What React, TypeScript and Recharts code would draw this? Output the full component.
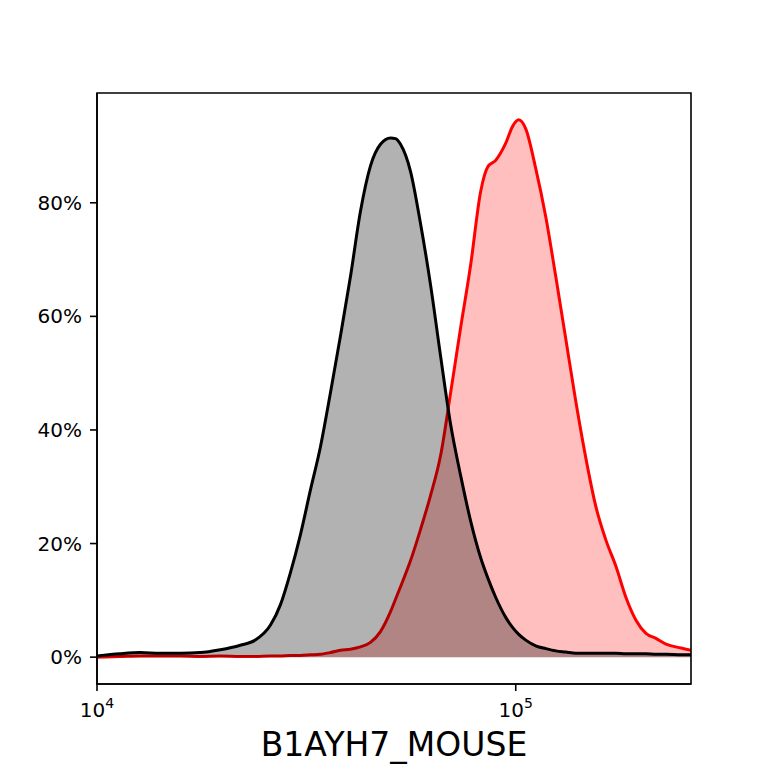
import { AreaChart, Area, XAxis, YAxis, ReferenceArea } from "recharts";

// fluorescence intensity (log axis)
const intensity = [
  10000, 11350, 12670, 14150, 15800, 17640, 19700, 21990, 23880, 25940,
  27410, 28950, 30590, 32330, 34160, 36090, 38130, 40300, 42580, 44990,
  47530, 50230, 51630, 53070, 56080, 59250, 62610, 66150, 69890, 73850,
  78020, 82460, 85700, 89600, 94650, 98360, 101670, 105660, 111640, 117970,
  124630, 131690, 139150, 147070, 155370, 164190, 173470, 183330, 193690,
  204640, 216200, 228480, 248140, 262144,
];

// black (control) histogram, % of max
const controlPct = [
  0.2, 0.6, 0.8, 0.7, 0.7, 0.8, 1.3, 2.1, 3.0, 5.6,
  9.2, 14.8, 21.5, 29.4, 37.0, 46.5, 56.5, 67.0, 78.5, 86.5,
  90.3, 91.4, 91.3, 90.3, 85.5, 76.3, 65.5, 53.0, 41.0, 32.0,
  24.0, 17.5, 14.0, 10.5, 7.0, 5.2, 4.0, 3.0, 2.0, 1.5,
  1.1, 0.9, 0.7, 0.7, 0.7, 0.7, 0.7, 0.6, 0.6, 0.6,
  0.5, 0.5, 0.4, 0.4,
];

// red (sample) histogram, % of max
const samplePct = [
  0.0, 0.1, 0.2, 0.2, 0.2, 0.1, 0.2, 0.1, 0.1, 0.2,
  0.2, 0.3, 0.3, 0.4, 0.5, 0.8, 1.2, 1.4, 1.8, 2.6,
  4.5, 8.0, 10.2, 12.4, 17.0, 22.5, 28.5, 35.5, 46.5, 58.0,
  69.0, 82.0, 86.3, 87.5, 90.5, 93.5, 94.6, 93.0, 86.0, 77.5,
  67.0, 56.0, 45.0, 35.0, 26.5, 20.6, 16.0, 10.5, 6.5, 4.2,
  3.3, 2.3, 1.6, 1.2,
];

const xTicks = [10000, 100000];
const yTicks = [0, 20, 40, 60, 80];
const xLabel = "B1AYH7_MOUSE";

const X_MIN = 10000;
const X_MAX = 262144;
const Y_MIN = -4.73;
const Y_MAX = 99.33;

const rows = intensity.map((x, i) => ({
  x,
  control: controlPct[i],
  sample: samplePct[i],
}));

const FONT = "DejaVu Sans";

function LogTick(props: any) {
  const { x, y, payload } = props;
  const exp = Math.round(Math.log10(payload.value));
  return (
    <text
      x={x}
      y={y + 26}
      textAnchor="middle"
      fontFamily={FONT}
      fontSize={20}
      fill="#000"
    >
      10
      <tspan dy={-9} fontSize={14}>
        {exp}
      </tspan>
    </text>
  );
}

export default function App() {
  return (
    <div style={{ position: "absolute", left: 0, top: 0, background: "#fff" }}>
      <AreaChart
        width={768}
        height={768}
        data={rows}
        margin={{ top: 93, right: 77, bottom: 0, left: 37 }}
      >
        <XAxis
          dataKey="x"
          type="number"
          scale="log"
          domain={[X_MIN, X_MAX]}
          allowDataOverflow
          ticks={xTicks}
          tick={<LogTick />}
          tickSize={7}
          tickMargin={0}
          height={84}
          axisLine={{ stroke: "#000", strokeWidth: 1.6 }}
          tickLine={{ stroke: "#000", strokeWidth: 1.6 }}
          label={{
            value: xLabel,
            position: "insideBottom",
            offset: 12,
            fontSize: 33,
            fill: "#000",
            fontFamily: FONT,
          }}
        />
        <YAxis
          type="number"
          domain={[Y_MIN, Y_MAX]}
          allowDataOverflow
          ticks={yTicks}
          tickFormatter={(v: number) => `${v}%`}
          width={60}
          tickSize={7}
          tickMargin={8}
          tick={{ fill: "#000", fontSize: 20, fontFamily: FONT }}
          axisLine={{ stroke: "#000", strokeWidth: 1.6 }}
          tickLine={{ stroke: "#000", strokeWidth: 1.6 }}
        />
        <Area
          dataKey="sample"
          type="monotone"
          stroke="#ff0000"
          strokeWidth={3}
          fill="#ff0000"
          fillOpacity={0.25}
          dot={false}
          activeDot={false}
          isAnimationActive={false}
        />
        <Area
          dataKey="control"
          type="monotone"
          stroke="#000"
          strokeWidth={3}
          fill="#000"
          fillOpacity={0.3}
          dot={false}
          activeDot={false}
          isAnimationActive={false}
        />
        <ReferenceArea
          x1={X_MIN}
          x2={X_MAX}
          y1={Y_MIN}
          y2={Y_MAX}
          fill="none"
          stroke="#000"
          strokeWidth={1.6}
          ifOverflow="visible"
        />
      </AreaChart>
    </div>
  );
}
